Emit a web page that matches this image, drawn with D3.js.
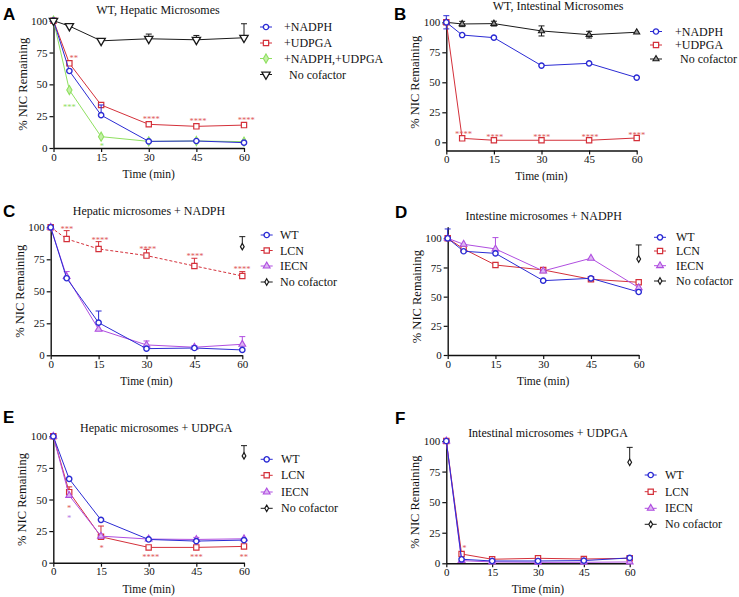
<!DOCTYPE html>
<html><head><meta charset="utf-8">
<script src="https://cdn.jsdelivr.net/npm/d3@7"></script>
<style>
body{margin:0;background:#fff;}
svg{display:block;font-family:"Liberation Serif","Times New Roman",serif;}
</style></head><body>
<svg id="chart" width="739" height="597"></svg>
<script>
// ---------- shared axes ----------
const times = [0,5,15,30,45,60];
const xTicks = [0,15,30,45,60];
const yTicks = [0,25,50,75,100];
const xLabel = "Time (min)";
const yLabel = "% NIC Remaining";

// ---------- Panel A: WT, Hepatic Microsomes ----------
const aNADPH    = [100,60.5,25.8,5.2,5.5,4.2];
const aNADPHErr = [0,0,8,0,0,0];
const aUDPGA    = [100,66.5,33.8,18.6,17,18];
const aBoth     = [100,45.5,8.9,5.2,5.5,5];
const aNone     = [100,95.8,84.2,85.8,85,86.6];
const aNoneErr  = [0,0,0,3.7,3.4,11];
const aStars = [[6.4,71.7,"**","red"],[5,33,"***","green"],[15.2,2.4,"*","green"],
                [30.8,23.8,"****","red"],[45.5,22,"****","red"],[60.7,22.8,"****","red"]];

// ---------- Panel B: WT, Intestinal Microsomes ----------
const bNADPH    = [100,89.4,87.2,63.9,65.8,53.9];
const bNADPHErr = [5.5,0,0,0,0,0];
const bUDPGA    = [100,3.3,1.7,1.7,1.7,3.6];
const bNone     = [100,98.6,98.9,92.8,89.7,91.7];
const bNoneErr  = [0,2.2,2,4.2,2.8,0];
const bStars = [[5.4,8,"****","red"],[15.3,6,"****","red"],[30.1,6,"****","red"],
                [45.3,6,"****","red"],[60,7.5,"****","red"]];

// ---------- Panel C: Hepatic microsomes + NADPH ----------
const cWT      = [100,60.2,25.5,5.2,5.7,4.2];
const cWTErr   = [0,0,9.1,0,0,0];
const cLCN     = [100,90.9,83.1,77.9,69.8,62];
const cLCNErr  = [0,6.5,5.7,4.9,6,3.4];
const cIECN    = [100,61.5,20.3,8.1,6.3,8.6];
const cIECNErr = [0,3.9,0,3.1,1.2,6];
const cNone    = [null,null,null,null,null,84.9];
const cNoneErr = [0,0,0,0,0,7.8];
const cStars = [[5.1,100,"***","red"],[15.4,91.4,"****","red"],[30.4,84.4,"****","red"],
                [45.2,78.4,"****","red"],[59.9,68.4,"****","red"]];

// ---------- Panel D: Intestine microsomes + NADPH ----------
const dWT      = [100,88.9,87.1,63.7,65.7,54];
const dWTErr   = [8,0,0,0,0,0];
const dLCN     = [100,90.9,77.1,72.9,64.9,62.3];
const dIECN    = [100,94.9,90.9,72,82.9,57.7];
const dIECNErr = [0,0,9.7,0,0,0];
const dNone    = [null,null,null,null,null,82.3];
const dNoneErr = [0,0,0,0,0,12];

// ---------- Panel E: Hepatic microsomes + UDPGA ----------
const eWT      = [100,66.3,33.9,18.4,17.1,17.9];
const eLCN     = [100,55.8,20.5,12.1,12.1,12.9];
const eLCNErr  = [0,4.2,8.5,0,0,0];
const eIECN    = [100,53.2,21,18.7,18.4,18.9];
const eIECNErr = [0,0,0,0,1.6,0];
const eNone    = [null,null,null,null,null,84.5];
const eNoneErr = [0,0,0,0,0,8.1];
const eStars = [[5,44.8,"*","red"],[5,36.6,"*","purple"],[15.2,12.6,"*","red"],
                [30.7,5.5,"****","red"],[45,5.5,"***","red"],[59.9,5.5,"**","red"]];

// ---------- Panel F: Intestinal microsomes + UDPGA ----------
const fWT      = [100,3.3,1.9,1.9,2.2,4.4];
const fLCN     = [100,7.6,3.3,4.1,3.5,4.1];
const fIECN    = [100,2.2,1.1,0.8,0.8,1.1];
const fNone    = [null,null,null,null,null,82.6];
const fNoneErr = [0,0,0,0,0,12.2];
const fStars = [[5.9,13.6,"*","red"]];

// ---------- styling ----------
const SERIF = "'Liberation Serif','Times New Roman',serif";
const COL = {blue:"#2b2bd4", red:"#d4303a", green:"#8fe060", purple:"#b04ee0", black:"#1a1a1a"};
const STAR = {red:"#e05a5a", green:"#8fe060", purple:"#b877e6"};
const SHAPES = {
  circle:  {type:d3.symbolCircle,  size:22, sw:1.4, fill:"#fff", rot:0},
  square:  {type:d3.symbolSquare,  size:28, sw:1.2, fill:"#fff", rot:0},
  diamond: {type:d3.symbolDiamond, size:24, sw:1.1, fill:"#c5f0a8", rot:0},
  tridown: {type:d3.symbolTriangle,size:30, sw:1.3, fill:"#fff", rot:180},
  tri:     {type:d3.symbolTriangle,size:16, sw:1.1, fill:"#999", rot:0},
  trip:    {type:d3.symbolTriangle,size:20, sw:1.1, fill:"#dcb6f2", rot:0},
  sdiam:   {type:d3.symbolDiamond, size:12, sw:1.2, fill:"#fff", rot:0}
};

const panels = [
  {letter:"A", lx:3, ly:19.5, title:"WT, Hepatic Microsomes", tx:158, ty:14,
   x0:53.5, x1:244, y0:148, y100:20.7, ymin:0, ymax:100, errMode:"up",
   series:[
     {name:"+NADPH,+UDPGA", v:aBoth, c:COL.green, s:"diamond"},
     {name:"+UDPGA", v:aUDPGA, c:COL.red, s:"square"},
     {name:"+NADPH", v:aNADPH, e:aNADPHErr, c:COL.blue, s:"circle"},
     {name:"No cofactor", v:aNone, e:aNoneErr, c:COL.black, s:"tridown", indent:5}
   ],
   legendOrder:[2,1,0,3], legX:266, legTX:284, legY:[27,43,58.5,74.5], stars:aStars},
  {letter:"B", lx:394, ly:19.5, title:"WT, Intestinal Microsomes", tx:558, ty:9.5,
   x0:446.3, x1:636.7, y0:142.3, y100:22.3, ymin:-6.8, ymax:100, errMode:"both",
   series:[
     {name:"No cofactor", v:bNone, e:bNoneErr, c:COL.black, s:"tri", indent:5},
     {name:"+UDPGA", v:bUDPGA, c:COL.red, s:"square"},
     {name:"+NADPH", v:bNADPH, e:bNADPHErr, c:COL.blue, s:"circle"}
   ],
   legendOrder:[2,1,0], legX:656, legTX:675, legY:[31.5,45,59], stars:bStars},
  {letter:"C", lx:3, ly:216.5, title:"Hepatic microsomes + NADPH", tx:149, ty:214.5,
   x0:50.7, x1:242.3, y0:355.3, y100:227.3, ymin:0, ymax:100, errMode:"up",
   series:[
     {name:"LCN", v:cLCN, e:cLCNErr, c:COL.red, s:"square", dash:"3,2"},
     {name:"IECN", v:cIECN, e:cIECNErr, c:COL.purple, s:"trip"},
     {name:"WT", v:cWT, e:cWTErr, c:COL.blue, s:"circle"},
     {name:"No cofactor", v:cNone, e:cNoneErr, c:COL.black, s:"sdiam"}
   ],
   legendOrder:[2,0,1,3], legX:266.7, legTX:280, legY:[235,250.5,266,282], stars:cStars},
  {letter:"D", lx:395, ly:218, title:"Intestine microsomes + NADPH", tx:543.7, ty:220,
   x0:447.7, x1:638.7, y0:355, y100:238.3, ymin:0, ymax:110, errMode:"up",
   series:[
     {name:"LCN", v:dLCN, c:COL.red, s:"square"},
     {name:"IECN", v:dIECN, e:dIECNErr, c:COL.purple, s:"trip"},
     {name:"WT", v:dWT, e:dWTErr, c:COL.blue, s:"circle"},
     {name:"No cofactor", v:dNone, e:dNoneErr, c:COL.black, s:"sdiam"}
   ],
   legendOrder:[2,0,1,3], legX:660, legTX:676, legY:[237.3,251,265.7,281], stars:[]},
  {letter:"E", lx:3, ly:423, title:"Hepatic microsomes + UDPGA", tx:156.3, ty:431.5,
   x0:53.3, x1:244, y0:562.7, y100:436.3, ymin:0, ymax:100, errMode:"up",
   series:[
     {name:"LCN", v:eLCN, e:eLCNErr, c:COL.red, s:"square"},
     {name:"IECN", v:eIECN, e:eIECNErr, c:COL.purple, s:"trip"},
     {name:"WT", v:eWT, c:COL.blue, s:"circle"},
     {name:"No cofactor", v:eNone, e:eNoneErr, c:COL.black, s:"sdiam"}
   ],
   legendOrder:[2,0,1,3], legX:266.7, legTX:281, legY:[459.3,475.3,492,508.3], stars:eStars},
  {letter:"F", lx:395, ly:424, title:"Intestinal microsomes + UDPGA", tx:548, ty:437.3,
   x0:446.3, x1:629.7, y0:563.3, y100:441, ymin:0, ymax:100, errMode:"up",
   series:[
     {name:"LCN", v:fLCN, c:COL.red, s:"square"},
     {name:"IECN", v:fIECN, c:COL.purple, s:"trip"},
     {name:"WT", v:fWT, c:COL.blue, s:"circle"},
     {name:"No cofactor", v:fNone, e:fNoneErr, c:COL.black, s:"sdiam"}
   ],
   legendOrder:[2,0,1,3], legX:650.7, legTX:665, legY:[475,491.7,508.3,524.3], stars:fStars}
];

const svg = d3.select("#chart");

function drawMarker(g, shapeKey, cx, cy, color) {
  const sh = SHAPES[shapeKey];
  g.append("path")
    .attr("d", d3.symbol().type(sh.type).size(sh.size)())
    .attr("transform", `translate(${cx},${cy}) rotate(${sh.rot})`)
    .attr("fill", sh.fill).attr("stroke", color).attr("stroke-width", sh.sw);
}

panels.forEach(p => {
  const g = svg.append("g");
  const k = (p.y0 - p.y100) / 100;
  const x = d3.scaleLinear().domain([0,60]).range([p.x0, p.x1]);
  const y = d3.scaleLinear().domain([p.ymin, p.ymax]).range([p.y0 - p.ymin*k, p.y0 - p.ymax*k]);

  // axes
  const ax = g.append("g").attr("transform", `translate(0,${y(p.ymin)})`)
    .call(d3.axisBottom(x).tickValues(xTicks).tickSize(4).tickSizeOuter(0).tickPadding(1));
  const ay = g.append("g").attr("transform", `translate(${p.x0},0)`)
    .call(d3.axisLeft(y).tickValues(yTicks).tickSize(4).tickSizeOuter(0).tickPadding(2));
  [ax, ay].forEach(a => {
    a.attr("font-family", null).attr("font-size", null);
    a.selectAll("text").style("font-family", SERIF).style("font-size", "11px").attr("fill", "#111");
    a.select(".domain").attr("stroke", "#111").attr("stroke-width", 1.4);
    a.selectAll(".tick line").attr("stroke", "#111").attr("stroke-width", 1.2);
  });

  // labels
  g.append("text").attr("x", p.lx).attr("y", p.ly).text(p.letter)
    .style("font-family", "'Liberation Sans',Arial,sans-serif").style("font-weight", "bold").style("font-size", "17px");
  g.append("text").attr("x", p.tx).attr("y", p.ty).attr("text-anchor", "middle").text(p.title)
    .style("font-family", SERIF).style("font-size", "12px").attr("fill", "#111");
  g.append("text").attr("x", (p.x0 + p.x1) / 2).attr("y", y(p.ymin) + 30).attr("text-anchor", "middle")
    .text(xLabel).style("font-family", SERIF).style("font-size", "11.5px").attr("fill", "#111");
  g.append("text").attr("transform", `translate(${p.x0 - 27},${(y(0) + y(100)) / 2}) rotate(-90)`)
    .attr("text-anchor", "middle").text(yLabel).style("font-family", SERIF).style("font-size", "12.5px").attr("fill", "#111");

  // series
  p.series.forEach(s => {
    const pts = times.map((t, i) => ({t, v: s.v[i], e: s.e ? s.e[i] : 0})).filter(d => d.v != null);
    const line = d3.line().x(d => x(d.t)).y(d => y(d.v));
    if (pts.length > 1) {
      g.append("path").attr("d", line(pts)).attr("fill", "none").attr("stroke", s.c)
        .attr("stroke-width", 1).attr("stroke-dasharray", s.dash || null);
    }
    pts.filter(d => d.e > 0).forEach(d => {
      const top = y(d.v + d.e), bot = p.errMode === "both" ? y(d.v - d.e) : y(d.v);
      g.append("line").attr("x1", x(d.t)).attr("x2", x(d.t)).attr("y1", top).attr("y2", bot)
        .attr("stroke", s.c).attr("stroke-width", 1);
      g.append("line").attr("x1", x(d.t) - 3).attr("x2", x(d.t) + 3).attr("y1", top).attr("y2", top)
        .attr("stroke", s.c).attr("stroke-width", 1);
      if (p.errMode === "both") {
        g.append("line").attr("x1", x(d.t) - 3).attr("x2", x(d.t) + 3).attr("y1", bot).attr("y2", bot)
          .attr("stroke", s.c).attr("stroke-width", 1);
      }
    });
    pts.forEach(d => drawMarker(g, s.s, x(d.t), y(d.v), s.c));
  });

  // significance stars
  p.stars.forEach(([t, v, lab, col]) => {
    g.append("text").attr("x", x(t)).attr("y", y(v) + 4.5).attr("text-anchor", "middle")
      .style("font-family", SERIF).style("font-size", "8.5px").attr("fill", STAR[col]).text(lab);
  });

  // legend
  p.legendOrder.forEach((si, r) => {
    const s = p.series[si];
    const ly = p.legY[r];
    g.append("line").attr("x1", p.legX - 6).attr("x2", p.legX + 6).attr("y1", ly).attr("y2", ly)
      .attr("stroke", s.c).attr("stroke-width", 1);
    drawMarker(g, s.s, p.legX, ly, s.c);
    g.append("text").attr("x", p.legTX + (s.indent || 0)).attr("y", ly + 4).text(s.name)
      .style("font-family", SERIF).style("font-size", "12px").attr("fill", "#111");
  });
});
</script>
</body></html>
